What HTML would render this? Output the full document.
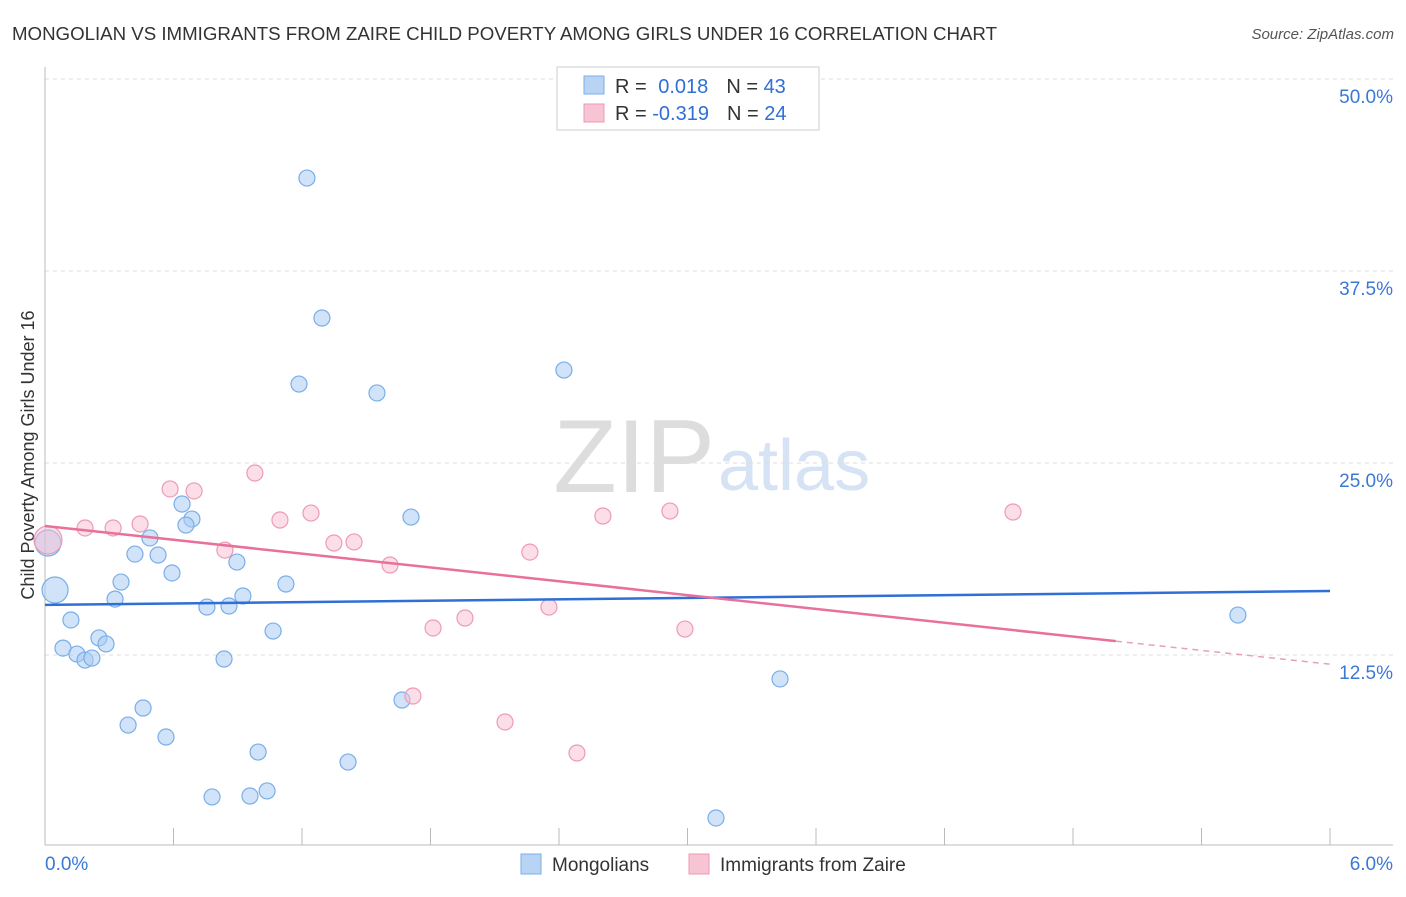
<!DOCTYPE html>
<html><head><meta charset="utf-8"><style>
body{margin:0;background:#fff;font-family:"Liberation Sans",sans-serif;}
svg text{font-family:"Liberation Sans",sans-serif;}
</style></head><body>
<svg id="chart" width="1406" height="892" xmlns="http://www.w3.org/2000/svg">
<text x="12" y="40" font-size="18.7" fill="#333" textLength="985">MONGOLIAN VS IMMIGRANTS FROM ZAIRE CHILD POVERTY AMONG GIRLS UNDER 16 CORRELATION CHART</text>
<text x="1394" y="39" font-size="15" fill="#555" font-style="italic" text-anchor="end">Source: ZipAtlas.com</text>
<text x="715" y="492" font-size="104" fill="#ddd" text-anchor="end" font-family="Liberation Serif">ZIP</text>
<text x="718" y="490" font-size="72" fill="#d5e3f5">atlas</text>
<text transform="translate(34,455) rotate(-90)" font-size="18" fill="#333" text-anchor="middle">Child Poverty Among Girls Under 16</text>
<g id="grid"></g><g id="axes"></g><g id="pts"></g><g id="lines"></g>
<g>
<rect x="557" y="67" width="262" height="63" fill="#fff" stroke="#ccc"/>
<rect x="584" y="76" width="20" height="18" fill="#b8d4f5" stroke="#7aaee8"/>
<rect x="584" y="104" width="20" height="18" fill="#f7c4d3" stroke="#ee9ab5"/>
<text x="615" y="93" font-size="20" fill="#333">R = <tspan fill="#2f6fd6" dx="6">0.018</tspan><tspan dx="18" fill="#333">N = </tspan><tspan fill="#2f6fd6">43</tspan></text>
<text x="615" y="120" font-size="20" fill="#333">R = <tspan fill="#2f6fd6" dx="0">-0.319</tspan><tspan dx="18" fill="#333">N = </tspan><tspan fill="#2f6fd6">24</tspan></text>
</g>
<g>
<rect x="521" y="854" width="20" height="20" fill="#b8d4f5" stroke="#7aaee8"/>
<text x="552" y="871" font-size="19" fill="#333">Mongolians</text>
<rect x="689" y="854" width="20" height="20" fill="#f7c4d3" stroke="#ee9ab5"/>
<text x="720" y="871" font-size="19" fill="#333">Immigrants from Zaire</text>
</g>
</svg>
<script>
const blueX=[1.223,1.293,1.186,1.550,2.423,1.709,0.640,0.686,0.658,0.490,0.420,0.528,0.896,0.593,0.355,1.125,0.327,0.924,0.756,0.859,0.121,0.252,0.285,0.084,0.149,0.187,0.219,1.065,0.836,0.458,0.388,0.565,0.995,1.415,1.667,0.780,0.957,1.037,3.133,3.432,5.570,0.047,0.014];
const blueY=[43.55,34.44,30.14,29.56,31.05,21.48,22.33,21.35,20.96,20.12,19.07,19.01,18.55,17.84,17.25,17.12,16.14,16.34,15.62,15.69,14.78,13.61,13.22,12.95,12.56,12.17,12.30,14.06,12.24,9.05,7.94,7.16,6.18,5.53,9.57,3.26,3.32,3.65,1.89,10.94,15.10,16.73,19.79];
const blueBig=[41,42];
const pinkX=[0.014,0.187,0.318,0.444,0.584,0.696,0.980,1.097,1.242,0.840,1.349,1.443,1.611,2.264,2.605,2.918,4.520,1.812,1.961,2.353,2.988,1.718,2.148,2.484];
const pinkY=[19.99,20.77,20.77,21.03,23.31,23.18,24.35,21.29,21.74,19.33,19.79,19.86,18.36,19.20,21.55,21.87,21.81,14.26,14.91,15.62,14.19,9.83,8.14,6.12];
const pinkBig=[0];
const blueTrend=[15.76,16.67];
const pinkTrend=[20.9,11.9];
const pinkSolidEnd=5.0;
const yTicks=[12.5,25,37.5,50];
const yTickLabels=["12.5%","25.0%","37.5%","50.0%"];
const xTickCount=10;
const xLabels=["0.0%","6.0%"];
const NS="http://www.w3.org/2000/svg";
const X=v=>45+v/6*1285, Y=v=>847-v/12.5*192;
function mk(p,tag,a){const e=document.createElementNS(NS,tag);for(const k in a)e.setAttribute(k,a[k]);document.getElementById(p).appendChild(e);return e;}
yTicks.forEach((t,i)=>{
 const l=mk('grid','line',{x1:45,x2:1393,y1:Y(t),y2:Y(t),stroke:'#ddd','stroke-dasharray':'4,4'});
 
 
 const tx=mk('grid','text',{x:1393,y:Y(t)+24,'font-size':19,fill:'#3a78d6','text-anchor':'end'});
 tx.textContent=yTickLabels[i];
 
 
});
let a=mk('axes','line',{x1:45,x2:45,y1:67,y2:845,stroke:'#bbb'});


a=mk('axes','line',{x1:45,x2:1393,y1:845,y2:845,stroke:'#bbb'});


for(let i=0;i<=xTickCount;i++){const v=6*i/xTickCount;
 const t=mk('axes','line',{x1:X(v),x2:X(v),y1:828,y2:845,stroke:'#bbb'});
 
 }
let t1=mk('axes','text',{x:45,y:870,'font-size':19,fill:'#3a78d6'});t1.textContent=xLabels[0];


let t2=mk('axes','text',{x:1393,y:870,'font-size':19,fill:'#3a78d6','text-anchor':'end'});t2.textContent=xLabels[1];


blueX.forEach((v,i)=>{const c=mk('pts','circle',{cx:X(v),cy:Y(blueY[i]),r:blueBig.includes(i)?13:8,fill:'rgba(170,204,243,0.55)',stroke:'#7aaee8','stroke-width':1.2});
 
 });
pinkX.forEach((v,i)=>{const c=mk('pts','circle',{cx:X(v),cy:Y(pinkY[i]),r:pinkBig.includes(i)?14:8,fill:'rgba(247,190,208,0.5)',stroke:'#ee9ab5','stroke-width':1.2});
 
 });
let b=mk('lines','line',{x1:X(0),y1:Y(blueTrend[0]),x2:X(6),y2:Y(blueTrend[1]),stroke:'#2f6fd6','stroke-width':2.5});


const pm=pinkTrend[0]+(pinkTrend[1]-pinkTrend[0])*pinkSolidEnd/6;
let p=mk('lines','line',{x1:X(0),y1:Y(pinkTrend[0]),x2:X(pinkSolidEnd),y2:Y(pm),stroke:'#e8709a','stroke-width':2.5});


let pd=mk('lines','line',{x1:X(pinkSolidEnd),y1:Y(pm),x2:X(6),y2:Y(pinkTrend[1]),stroke:'#e8a0b8','stroke-width':1.5,'stroke-dasharray':'6,5'});


</script>
</body></html>
